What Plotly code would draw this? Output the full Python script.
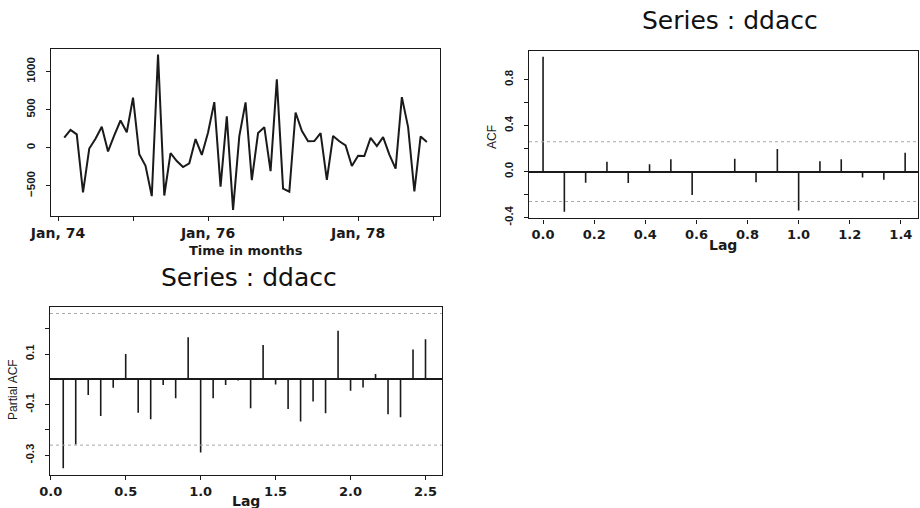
import plotly.graph_objects as go

W, H = 920, 508

# ---------------- data ----------------
# twice differenced monthly series, Feb 1974 .. Dec 1978 (months since Jan 74)
ts_month = list(range(1, 60))
ts_values = [132, 235, 175, -588, -11, 117, 276, -49, 161, 358, 204,
             659, -87, -239, -638, 1225, -629, -71, -176, -255, -205, 113, -96,
             201, 600, -512, 412, -819, 153, 596, -426, 193, 270, -308, 899,
             -538, -579, 463, 222, 86, 87, 193, -424, 154, 85, 29, -242,
             -105, -109, 130, 21, 139, -90, -276, 666, 271, -576, 148, 76]
ts_tickvals = [0, 12, 24, 36, 48, 60]
ts_ticktext = ["Jan, 74", "", "Jan, 76", "", "Jan, 78", ""]

acf_lag = [k / 12 for k in range(18)]
acf_values = [1.0, -0.348, -0.096, 0.087, -0.10, 0.064, 0.107, -0.203, -0.01,
              0.113, -0.093, 0.197, -0.339, 0.09, 0.107, -0.05, -0.07, 0.165]

pacf_lag = [k / 12 for k in range(1, 31)]
pacf_values = [-0.351, -0.257, -0.062, -0.145, -0.033, 0.10, -0.132, -0.158,
               -0.022, -0.075, 0.166, -0.289, -0.075, -0.022, -0.005, -0.114,
               0.136, -0.02, -0.117, -0.167, -0.088, -0.134, 0.192, -0.045,
               -0.032, 0.021, -0.138, -0.15, 0.118, 0.158]

conf_band = 0.26
title_text = "Series : ddacc"

# ---------------- helpers ----------------
FONT = "DejaVu Sans, sans-serif"
YFONT = "Liberation Sans, Arial, sans-serif"
INK = "#1a1a1a"


def px_x(p):
    return p / W


def px_y(p):
    return 1 - p / H


def stems(lags, vals):
    xs, ys = [], []
    for l, v in zip(lags, vals):
        xs += [l, l, None]
        ys += [0, v, None]
    return xs, ys


fig = go.Figure()

fig.add_trace(go.Scatter(x=ts_month, y=ts_values, mode="lines",
                         line=dict(color=INK, width=2), xaxis="x", yaxis="y",
                         showlegend=False, hoverinfo="skip"))

ax, ay = stems(acf_lag, acf_values)
fig.add_trace(go.Scatter(x=ax, y=ay, mode="lines", line=dict(color=INK, width=1.6),
                         xaxis="x2", yaxis="y2", showlegend=False, hoverinfo="skip"))

px_, py_ = stems(pacf_lag, pacf_values)
fig.add_trace(go.Scatter(x=px_, y=py_, mode="lines", line=dict(color=INK, width=1.6),
                         xaxis="x3", yaxis="y3", showlegend=False, hoverinfo="skip"))

common_axis = dict(showline=True, linecolor=INK, linewidth=1.4, mirror=True,
                   showgrid=False, ticks="outside", ticklen=4, tickwidth=1,
                   tickcolor=INK, automargin=False)
xfont = dict(family=FONT, size=13, color=INK, weight="bold")
tsfont = dict(family=FONT, size=14, color=INK, weight="bold")
yfont = dict(family=YFONT, size=11.5, color=INK, weight="bold")

fig.update_layout(
    template="none",
    width=W, height=H,
    margin=dict(l=0, r=0, t=0, b=0, pad=0),
    paper_bgcolor="white", plot_bgcolor="white",
    showlegend=False,
    xaxis=dict(domain=[px_x(51), px_x(440)], anchor="y", range=[-1.12, 61.1],
               tickvals=ts_tickvals, ticktext=ts_ticktext, tickfont=tsfont,
               zeroline=False, **common_axis),
    yaxis=dict(domain=[px_y(216), px_y(49)], anchor="x", range=[-899, 1299],
               tickvals=[-500, 0, 500, 1000], tickangle=-90, tickfont=yfont,
               ticklabelstandoff=6, zeroline=False, **common_axis),
    xaxis2=dict(domain=[px_x(529), px_x(918)], anchor="y2", range=[-0.055, 1.467],
                tickvals=[0, 0.2, 0.4, 0.6, 0.8, 1.0, 1.2, 1.4],
                ticktext=["0.0", "0.2", "0.4", "0.6", "0.8", "1.0", "1.2", "1.4"],
                tickfont=xfont, zeroline=False, **common_axis),
    yaxis2=dict(domain=[px_y(218.3), px_y(50.7)], anchor="x2", range=[-0.406, 1.052],
                tickvals=[-0.4, -0.2, 0.0, 0.2, 0.4, 0.6, 0.8],
                ticktext=["-0.4", "", "0.0", "", "0.4", "", "0.8"],
                tickangle=-90, tickfont=yfont, ticklabelstandoff=6,
                zeroline=True, zerolinecolor=INK, zerolinewidth=1.6, **common_axis),
    xaxis3=dict(domain=[px_x(50), px_x(442)], anchor="y3", range=[-0.005, 2.61],
                tickvals=[0, 0.5, 1.0, 1.5, 2.0, 2.5],
                ticktext=["0.0", "0.5", "1.0", "1.5", "2.0", "2.5"],
                tickfont=xfont, zeroline=False, **common_axis),
    yaxis3=dict(domain=[px_y(475), px_y(306.7)], anchor="x3", range=[-0.378, 0.287],
                tickvals=[-0.3, -0.2, -0.1, 0.1, 0.2],
                ticktext=["-0.3", "", "-0.1", "0.1", ""],
                tickangle=-90, tickfont=yfont, ticklabelstandoff=6,
                zeroline=True, zerolinecolor=INK, zerolinewidth=1.6, **common_axis),
)

for xr, yr in (("x2", "y2"), ("x3", "y3")):
    for s in (1, -1):
        fig.add_shape(type="line", xref=f"{xr} domain", yref=yr, x0=0, x1=1,
                      y0=s * conf_band, y1=s * conf_band,
                      line=dict(color="#a8a8a8", width=1, dash="dot"))

ann_font = dict(family=FONT, size=13, color=INK, weight="bold")
lag_font = dict(family=FONT, size=14, color=INK, weight="bold")
title_font = dict(family=FONT, size=25, color="#111")
annotations = [
    dict(text=title_text, x=px_x(730), y=px_y(20), font=title_font),
    dict(text=title_text, x=px_x(249), y=px_y(277), font=title_font),
    dict(text="Time in months", x=px_x(246), y=px_y(250), font=ann_font),
    dict(text="Lag", x=px_x(723), y=px_y(245), font=lag_font),
    dict(text="Lag", x=px_x(246), y=px_y(501), font=lag_font),
    dict(text="ACF", x=px_x(492), y=px_y(137), textangle=-90,
         font=dict(family=YFONT, size=12, color=INK)),
    dict(text="Partial ACF", x=px_x(13), y=px_y(390), textangle=-90,
         font=dict(family=YFONT, size=12, color=INK)),
]
for a in annotations:
    a.update(xref="paper", yref="paper", showarrow=False, xanchor="center", yanchor="middle")
fig.update_layout(annotations=annotations)

fig.write_html("out.html")
